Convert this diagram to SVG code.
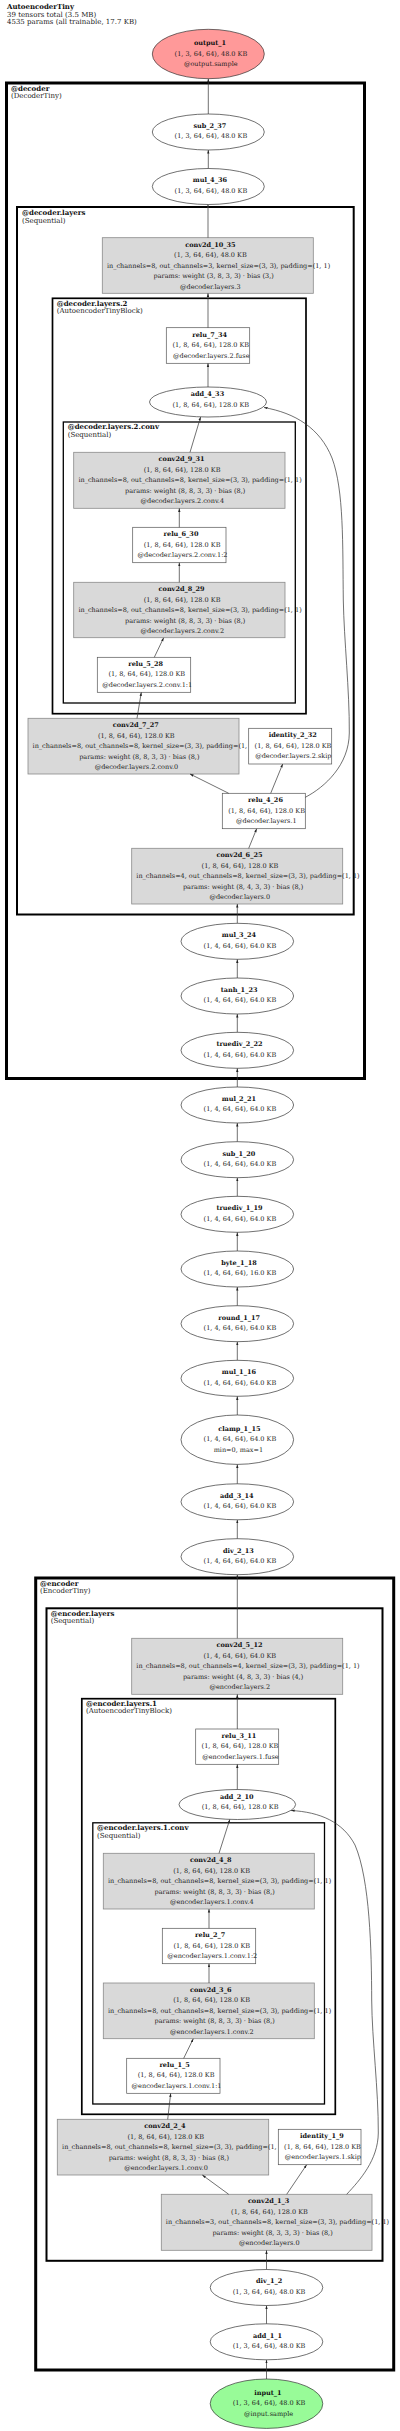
<svg xmlns="http://www.w3.org/2000/svg" width="400" height="2431" viewBox="0 0 400 2431">
<style>
text{font-family:"DejaVu Serif","Liberation Serif",serif;font-size:6.5px;fill:#222}
.b{font-weight:bold;fill:#111}
.h{font-size:7px}
.e{fill:#fff;stroke:#333;stroke-width:0.7}
.g{fill:#d9d9d9;stroke:#8a8a8a;stroke-width:0.8}
.w{fill:#fff;stroke:#555;stroke-width:0.7}
.c0{fill:none;stroke:#000;stroke-width:3}
.c1{fill:none;stroke:#000;stroke-width:2}
.c2{fill:none;stroke:#000;stroke-width:1.7}
.c3{fill:none;stroke:#000;stroke-width:1.3}
.ed{fill:none;stroke:#333;stroke-width:0.7;marker-end:url(#ah)}
</style>
<defs>
<marker id="ah" viewBox="0 0 10 10" refX="10" refY="5" markerWidth="3.6" markerHeight="3.6" markerUnits="userSpaceOnUse" orient="auto">
<path d="M0,1.8 L10,5 L0,8.2 z" fill="#222"/>
</marker>
</defs>
<rect x="0" y="0" width="400" height="2431" fill="#fff"/>
<g id="header">
<text class="h b" x="7" y="9">AutoencoderTiny</text>
<text class="h" x="7" y="16.5">39 tensors total (3.5 MB)</text>
<text class="h" x="7" y="24">4535 params (all trainable, 17.7 KB)</text>
</g>
<g id="clusters">
<rect class="c0" x="6.5" y="83" width="358" height="995.5"/>
<text class="h b" x="11" y="90.7">@decoder</text>
<text class="h" x="11" y="98.3">(DecoderTiny)</text>
<rect class="c1" x="17" y="207" width="336.7" height="707.5"/>
<text class="h b" x="22" y="215">@decoder.layers</text>
<text class="h" x="22" y="222.7">(Sequential)</text>
<rect class="c2" x="52.5" y="298.3" width="253.5" height="415.4"/>
<text class="h b" x="56.7" y="305.5">@decoder.layers.2</text>
<text class="h" x="56.7" y="313">(AutoencoderTinyBlock)</text>
<rect class="c3" x="63.3" y="422" width="232" height="281"/>
<text class="h b" x="67.7" y="429.3">@decoder.layers.2.conv</text>
<text class="h" x="67.7" y="436.8">(Sequential)</text>
<rect class="c0" x="35.7" y="1578" width="358" height="792"/>
<text class="h b" x="40" y="1585.5">@encoder</text>
<text class="h" x="40" y="1593">(EncoderTiny)</text>
<rect class="c1" x="46.5" y="1608.3" width="336" height="652.5"/>
<text class="h b" x="50.7" y="1615.8">@encoder.layers</text>
<text class="h" x="50.7" y="1623.3">(Sequential)</text>
<rect class="c2" x="81.8" y="1698.7" width="253.5" height="415.6"/>
<text class="h b" x="86" y="1705.8">@encoder.layers.1</text>
<text class="h" x="86" y="1713.3">(AutoencoderTinyBlock)</text>
<rect class="c3" x="92.8" y="1822.8" width="231.7" height="281.2"/>
<text class="h b" x="97" y="1830.3">@encoder.layers.1.conv</text>
<text class="h" x="97" y="1837.8">(Sequential)</text>
</g>
<g id="output_1">
<ellipse cx="208.3" cy="54" rx="56" ry="24.7" fill="#ff9999" stroke="#333" stroke-width="0.7"/>
<text class="b" x="194" y="45.2">output_1</text>
<text x="174.6" y="55.7">(1, 3, 64, 64), 48.0 KB</text>
<text x="183.9" y="66.2">@output.sample</text>
</g>
<g id="sub_2_37">
<ellipse class="e" cx="208.3" cy="132" rx="56" ry="18"/>
<text class="b" x="193.4" y="127.8">sub_2_37</text>
<text x="174.6" y="138.3">(1, 3, 64, 64), 48.0 KB</text>
</g>
<g id="mul_4_36">
<ellipse class="e" cx="208.3" cy="186.5" rx="56" ry="18"/>
<text class="b" x="192.8" y="182.3">mul_4_36</text>
<text x="174.6" y="192.8">(1, 3, 64, 64), 48.0 KB</text>
</g>
<g id="conv2d_10_35">
<rect class="g" x="102.3" y="237.7" width="211" height="55.6"/>
<text class="b" x="185.2" y="246.5">conv2d_10_35</text>
<text x="174.1" y="257">(1, 3, 64, 64), 48.0 KB</text>
<text x="106.9" y="267.5">in_channels=8, out_channels=3, kernel_size=(3, 3), padding=(1, 1)</text>
<text x="153.5" y="278">params: weight (3, 8, 3, 3) · bias (3,)</text>
<text x="180" y="288.5">@decoder.layers.3</text>
</g>
<g id="relu_7_34">
<rect class="w" x="166.3" y="327.7" width="83.4" height="35.6"/>
<text class="b" x="192.3" y="336.5">relu_7_34</text>
<text x="172.4" y="347">(1, 8, 64, 64), 128.0 KB</text>
<text x="173" y="357.5">@decoder.layers.2.fuse</text>
</g>
<g id="add_4_33">
<ellipse class="e" cx="208" cy="402" rx="58.5" ry="15"/>
<text class="b" x="190.8" y="396.3">add_4_33</text>
<text x="172.4" y="406.8">(1, 8, 64, 64), 128.0 KB</text>
</g>
<g id="conv2d_9_31">
<rect class="g" x="73.7" y="452.3" width="211.3" height="56"/>
<text class="b" x="158.6" y="461.3">conv2d_9_31</text>
<text x="143.7" y="471.8">(1, 8, 64, 64), 128.0 KB</text>
<text x="78.4" y="482.3">in_channels=8, out_channels=8, kernel_size=(3, 3), padding=(1, 1)</text>
<text x="125" y="492.8">params: weight (8, 8, 3, 3) · bias (8,)</text>
<text x="140.5" y="503.3">@decoder.layers.2.conv.4</text>
</g>
<g id="relu_6_30">
<rect class="w" x="132.7" y="527.3" width="93.3" height="35.4"/>
<text class="b" x="163.6" y="536">relu_6_30</text>
<text x="143.7" y="546.5">(1, 8, 64, 64), 128.0 KB</text>
<text x="137.6" y="557">@decoder.layers.2.conv.1:2</text>
</g>
<g id="conv2d_8_29">
<rect class="g" x="73.7" y="582.3" width="211.3" height="55.4"/>
<text class="b" x="158.6" y="591">conv2d_8_29</text>
<text x="143.7" y="601.5">(1, 8, 64, 64), 128.0 KB</text>
<text x="78.4" y="612">in_channels=8, out_channels=8, kernel_size=(3, 3), padding=(1, 1)</text>
<text x="125" y="622.5">params: weight (8, 8, 3, 3) · bias (8,)</text>
<text x="140.5" y="633">@decoder.layers.2.conv.2</text>
</g>
<g id="relu_5_28">
<rect class="w" x="97.3" y="657.3" width="93.4" height="35"/>
<text class="b" x="128.3" y="665.8">relu_5_28</text>
<text x="108.4" y="676.3">(1, 8, 64, 64), 128.0 KB</text>
<text x="102.3" y="686.8">@decoder.layers.2.conv.1:1</text>
</g>
<g id="conv2d_7_27">
<rect class="g" x="28" y="718.3" width="211" height="55.7"/>
<text class="b" x="112.8" y="727.2">conv2d_7_27</text>
<text x="97.9" y="737.7">(1, 8, 64, 64), 128.0 KB</text>
<text x="32.6" y="748.2">in_channels=8, out_channels=8, kernel_size=(3, 3), padding=(1, 1)</text>
<text x="79.2" y="758.7">params: weight (8, 8, 3, 3) · bias (8,)</text>
<text x="94.7" y="769.2">@decoder.layers.2.conv.0</text>
</g>
<g id="identity_2_32">
<rect class="w" x="248.7" y="728.3" width="83" height="35.7"/>
<text class="b" x="268.7" y="737.2">identity_2_32</text>
<text x="254.6" y="747.7">(1, 8, 64, 64), 128.0 KB</text>
<text x="255.2" y="758.2">@decoder.layers.2.skip</text>
</g>
<g id="relu_4_26">
<rect class="w" x="222.3" y="793.3" width="83" height="35.4"/>
<text class="b" x="248.1" y="802">relu_4_26</text>
<text x="228.2" y="812.5">(1, 8, 64, 64), 128.0 KB</text>
<text x="236" y="823">@decoder.layers.1</text>
</g>
<g id="conv2d_6_25">
<rect class="g" x="131.7" y="848.3" width="211" height="55.7"/>
<text class="b" x="216.5" y="857.2">conv2d_6_25</text>
<text x="201.6" y="867.7">(1, 8, 64, 64), 128.0 KB</text>
<text x="136.3" y="878.2">in_channels=4, out_channels=8, kernel_size=(3, 3), padding=(1, 1)</text>
<text x="182.9" y="888.7">params: weight (8, 4, 3, 3) · bias (8,)</text>
<text x="209.4" y="899.2">@decoder.layers.0</text>
</g>
<g id="mul_3_24">
<ellipse class="e" cx="237.3" cy="941.3" rx="56.3" ry="18"/>
<text class="b" x="221.8" y="937.1">mul_3_24</text>
<text x="203.6" y="947.6">(1, 4, 64, 64), 64.0 KB</text>
</g>
<g id="tanh_1_23">
<ellipse class="e" cx="237.3" cy="996" rx="56.3" ry="18"/>
<text class="b" x="220.7" y="991.8">tanh_1_23</text>
<text x="203.6" y="1002.3">(1, 4, 64, 64), 64.0 KB</text>
</g>
<g id="truediv_2_22">
<ellipse class="e" cx="237.3" cy="1050.3" rx="56.3" ry="18"/>
<text class="b" x="216.4" y="1046.1">truediv_2_22</text>
<text x="203.6" y="1056.6">(1, 4, 64, 64), 64.0 KB</text>
</g>
<g id="mul_2_21">
<ellipse class="e" cx="237.3" cy="1105" rx="56.3" ry="18"/>
<text class="b" x="221.8" y="1100.8">mul_2_21</text>
<text x="203.6" y="1111.3">(1, 4, 64, 64), 64.0 KB</text>
</g>
<g id="sub_1_20">
<ellipse class="e" cx="237.3" cy="1159.7" rx="56.3" ry="18"/>
<text class="b" x="222.4" y="1155.5">sub_1_20</text>
<text x="203.6" y="1166">(1, 4, 64, 64), 64.0 KB</text>
</g>
<g id="truediv_1_19">
<ellipse class="e" cx="237.3" cy="1214.3" rx="56.3" ry="18"/>
<text class="b" x="216.4" y="1210.1">truediv_1_19</text>
<text x="203.6" y="1220.6">(1, 4, 64, 64), 64.0 KB</text>
</g>
<g id="byte_1_18">
<ellipse class="e" cx="237.3" cy="1269" rx="56.3" ry="18"/>
<text class="b" x="221.2" y="1264.8">byte_1_18</text>
<text x="203.6" y="1275.3">(1, 4, 64, 64), 16.0 KB</text>
</g>
<g id="round_1_17">
<ellipse class="e" cx="237.3" cy="1323.7" rx="56.3" ry="18"/>
<text class="b" x="218.3" y="1319.5">round_1_17</text>
<text x="203.6" y="1330">(1, 4, 64, 64), 64.0 KB</text>
</g>
<g id="mul_1_16">
<ellipse class="e" cx="237.3" cy="1378.3" rx="56.3" ry="18"/>
<text class="b" x="221.8" y="1374.1">mul_1_16</text>
<text x="203.6" y="1384.6">(1, 4, 64, 64), 64.0 KB</text>
</g>
<g id="clamp_1_15">
<ellipse class="e" cx="237.3" cy="1439.7" rx="56.3" ry="24.7"/>
<text class="b" x="218.3" y="1430.9">clamp_1_15</text>
<text x="203.6" y="1441.4">(1, 4, 64, 64), 64.0 KB</text>
<text x="213.7" y="1451.9">min=0, max=1</text>
</g>
<g id="add_3_14">
<ellipse class="e" cx="237.3" cy="1501.8" rx="56.3" ry="18"/>
<text class="b" x="220.1" y="1497.6">add_3_14</text>
<text x="203.6" y="1508.1">(1, 4, 64, 64), 64.0 KB</text>
</g>
<g id="div_2_13">
<ellipse class="e" cx="237.3" cy="1556.7" rx="56.3" ry="18"/>
<text class="b" x="223" y="1552.5">div_2_13</text>
<text x="203.6" y="1563">(1, 4, 64, 64), 64.0 KB</text>
</g>
<g id="conv2d_5_12">
<rect class="g" x="131.7" y="1638.3" width="211" height="56"/>
<text class="b" x="216.5" y="1647.3">conv2d_5_12</text>
<text x="203.5" y="1657.8">(1, 4, 64, 64), 64.0 KB</text>
<text x="136.3" y="1668.3">in_channels=8, out_channels=4, kernel_size=(3, 3), padding=(1, 1)</text>
<text x="182.9" y="1678.8">params: weight (4, 8, 3, 3) · bias (4,)</text>
<text x="209.4" y="1689.3">@encoder.layers.2</text>
</g>
<g id="relu_3_11">
<rect class="w" x="195.7" y="1729" width="83" height="35.3"/>
<text class="b" x="221.5" y="1737.7">relu_3_11</text>
<text x="201.6" y="1748.2">(1, 8, 64, 64), 128.0 KB</text>
<text x="202.2" y="1758.7">@encoder.layers.1.fuse</text>
</g>
<g id="add_2_10">
<ellipse class="e" cx="237.3" cy="1804.5" rx="58.3" ry="15"/>
<text class="b" x="220.1" y="1798.5">add_2_10</text>
<text x="201.7" y="1809">(1, 8, 64, 64), 128.0 KB</text>
</g>
<g id="conv2d_4_8">
<rect class="g" x="103.3" y="1853.3" width="211" height="55.7"/>
<text class="b" x="190" y="1862.2">conv2d_4_8</text>
<text x="173.2" y="1872.7">(1, 8, 64, 64), 128.0 KB</text>
<text x="107.9" y="1883.2">in_channels=8, out_channels=8, kernel_size=(3, 3), padding=(1, 1)</text>
<text x="154.5" y="1893.7">params: weight (8, 8, 3, 3) · bias (8,)</text>
<text x="170" y="1904.2">@encoder.layers.1.conv.4</text>
</g>
<g id="relu_2_7">
<rect class="w" x="162.3" y="1928.3" width="93.4" height="35.4"/>
<text class="b" x="195.1" y="1937">relu_2_7</text>
<text x="173.4" y="1947.5">(1, 8, 64, 64), 128.0 KB</text>
<text x="167.3" y="1958">@encoder.layers.1.conv.1:2</text>
</g>
<g id="conv2d_3_6">
<rect class="g" x="103.3" y="1983" width="211" height="55.7"/>
<text class="b" x="190" y="1991.8">conv2d_3_6</text>
<text x="173.2" y="2002.3">(1, 8, 64, 64), 128.0 KB</text>
<text x="107.9" y="2012.8">in_channels=8, out_channels=8, kernel_size=(3, 3), padding=(1, 1)</text>
<text x="154.5" y="2023.3">params: weight (8, 8, 3, 3) · bias (8,)</text>
<text x="170" y="2033.8">@encoder.layers.1.conv.2</text>
</g>
<g id="relu_1_5">
<rect class="w" x="126.7" y="2058.3" width="93.3" height="35"/>
<text class="b" x="159.4" y="2066.8">relu_1_5</text>
<text x="137.7" y="2077.3">(1, 8, 64, 64), 128.0 KB</text>
<text x="131.6" y="2087.8">@encoder.layers.1.conv.1:1</text>
</g>
<g id="conv2d_2_4">
<rect class="g" x="57.3" y="2119.3" width="211.4" height="55.7"/>
<text class="b" x="144.2" y="2128.2">conv2d_2_4</text>
<text x="127.4" y="2138.7">(1, 8, 64, 64), 128.0 KB</text>
<text x="62.1" y="2149.2">in_channels=8, out_channels=8, kernel_size=(3, 3), padding=(1, 1)</text>
<text x="108.7" y="2159.7">params: weight (8, 8, 3, 3) · bias (8,)</text>
<text x="124.2" y="2170.2">@encoder.layers.1.conv.0</text>
</g>
<g id="identity_1_9">
<rect class="w" x="278.3" y="2129.3" width="82.7" height="35.4"/>
<text class="b" x="300" y="2138">identity_1_9</text>
<text x="284.1" y="2148.5">(1, 8, 64, 64), 128.0 KB</text>
<text x="284.7" y="2159">@encoder.layers.1.skip</text>
</g>
<g id="conv2d_1_3">
<rect class="g" x="161.3" y="2194.3" width="210.7" height="56"/>
<text class="b" x="247.9" y="2203.3">conv2d_1_3</text>
<text x="231.1" y="2213.8">(1, 8, 64, 64), 128.0 KB</text>
<text x="165.8" y="2224.3">in_channels=3, out_channels=8, kernel_size=(3, 3), padding=(1, 1)</text>
<text x="212.4" y="2234.8">params: weight (8, 3, 3, 3) · bias (8,)</text>
<text x="238.9" y="2245.3">@encoder.layers.0</text>
</g>
<g id="div_1_2">
<ellipse class="e" cx="266.5" cy="2287.5" rx="56.3" ry="18"/>
<text class="b" x="255.9" y="2283.3">div_1_2</text>
<text x="232.8" y="2293.8">(1, 3, 64, 64), 48.0 KB</text>
</g>
<g id="add_1_1">
<ellipse class="e" cx="266.5" cy="2341.8" rx="56.3" ry="18"/>
<text class="b" x="253.1" y="2337.6">add_1_1</text>
<text x="232.8" y="2348.1">(1, 3, 64, 64), 48.0 KB</text>
</g>
<g id="input_1">
<ellipse cx="266.5" cy="2403.7" rx="56.3" ry="24.7" fill="#98fb98" stroke="#333" stroke-width="0.7"/>
<text class="b" x="254.3" y="2394.9">input_1</text>
<text x="232.8" y="2405.4">(1, 3, 64, 64), 48.0 KB</text>
<text x="243.9" y="2415.9">@input.sample</text>
</g>
<g id="connectors">
<path class="ed" d="M208.3,114 L208.3,78.7"/>
<path class="ed" d="M208.3,168.5 L208.3,150"/>
<path class="ed" d="M208,237.7 L208,204.5"/>
<path class="ed" d="M208,327.7 L208,293.3"/>
<path class="ed" d="M208,387 L208,363.3"/>
<path class="ed" d="M190,452.3 L200.6,417"/>
<path class="ed" d="M305.3,797.3 C325,787 349,765 349.3,733 C349.6,690 344,640 343.3,600 C342.6,545 344,490 332,458 C320,428 295,413 264,407.5"/>
<path class="ed" d="M179.3,527.3 L179.3,508.3"/>
<path class="ed" d="M179.3,582.3 L179.3,562.7"/>
<path class="ed" d="M154.3,657.3 L163.7,637.7"/>
<path class="ed" d="M137,718.3 L141.3,692.3"/>
<path class="ed" d="M228.7,793.3 L190,774"/>
<path class="ed" d="M270.7,793.3 L282.7,764"/>
<path class="ed" d="M248.7,848.3 L256.7,828.7"/>
<path class="ed" d="M237.3,923.3 L237.3,904"/>
<path class="ed" d="M237.3,978 L237.3,959.3"/>
<path class="ed" d="M237.3,1032.3 L237.3,1014"/>
<path class="ed" d="M237.3,1087 L237.3,1068.3"/>
<path class="ed" d="M237.3,1141.7 L237.3,1123"/>
<path class="ed" d="M237.3,1196.3 L237.3,1177.7"/>
<path class="ed" d="M237.3,1251 L237.3,1232.3"/>
<path class="ed" d="M237.3,1305.7 L237.3,1287"/>
<path class="ed" d="M237.3,1360.3 L237.3,1341.7"/>
<path class="ed" d="M237.3,1415 L237.3,1396.3"/>
<path class="ed" d="M237.3,1483.8 L237.3,1464.4"/>
<path class="ed" d="M237.3,1538.7 L237.3,1519.8"/>
<path class="ed" d="M237.3,1638.3 L237.3,1574.7"/>
<path class="ed" d="M237.3,1729 L237.3,1694.3"/>
<path class="ed" d="M237.3,1789.5 L237.3,1764.3"/>
<path class="ed" d="M219,1853.3 L229.8,1819.4"/>
<path class="ed" d="M209,1928.3 L209,1909"/>
<path class="ed" d="M209,1983 L209,1963.7"/>
<path class="ed" d="M183.7,2058.3 L193.3,2038.7"/>
<path class="ed" d="M167.7,2119.3 L170.7,2093.3"/>
<path class="ed" d="M228.7,2194.3 L202.3,2175"/>
<path class="ed" d="M286.7,2194.3 L306.7,2164.7"/>
<path class="ed" d="M346.7,2194.3 C360,2180 378,2160 378.3,2133 C378.5,2090 372,2040 371.7,2000 C371.5,1950 370,1880 355,1845 C343,1822 320,1812 291,1810.5"/>
<path class="ed" d="M266.5,2269.5 L266.5,2250.3"/>
<path class="ed" d="M266.5,2323.8 L266.5,2305.5"/>
<path class="ed" d="M266.5,2379 L266.5,2359.8"/>
</g>
</svg>
